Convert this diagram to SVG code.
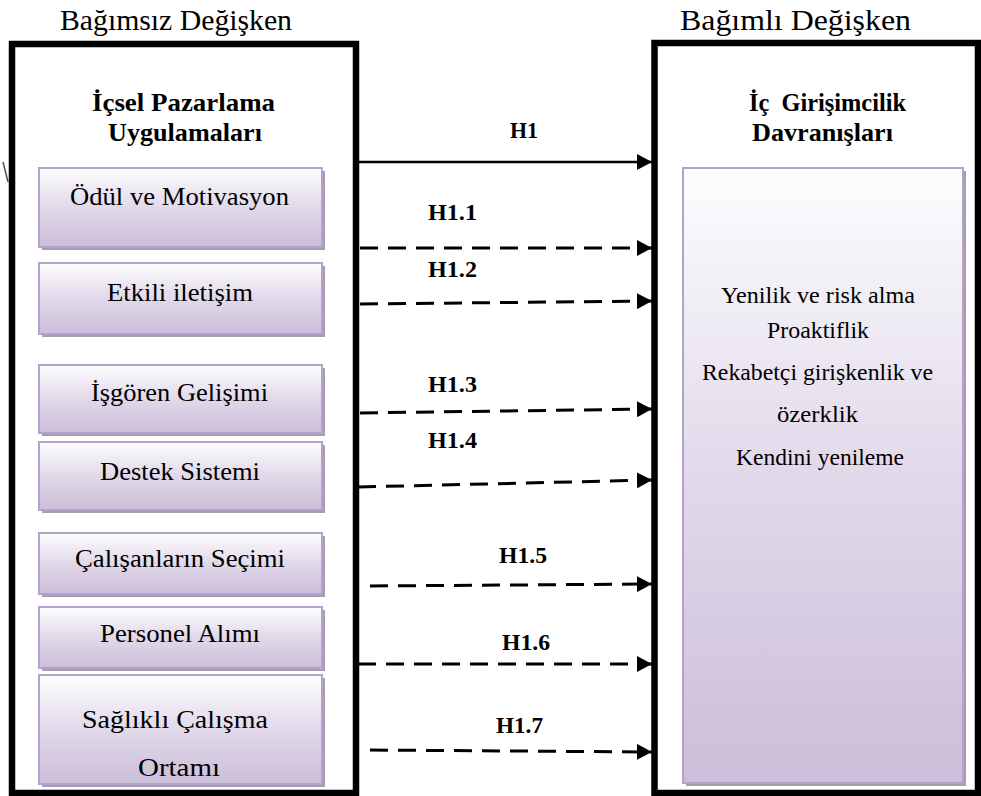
<svg xmlns="http://www.w3.org/2000/svg" width="981" height="796" viewBox="0 0 981 796">
<style>
.frame{fill:none;stroke:#000;stroke-width:6.5}
.box{fill:url(#lav);stroke:#b3a3cc;stroke-width:2}
.sh{fill:#a79daf}
.t{font-family:"Liberation Serif","Times New Roman",serif;font-size:26px;fill:#000}
.r{font-family:"Liberation Serif","Times New Roman",serif;font-size:24px;fill:#000}
.hd{font-family:"Liberation Serif","Times New Roman",serif;font-size:30px;fill:#000}
.b{font-family:"Liberation Serif","Times New Roman",serif;font-size:25px;font-weight:bold;fill:#000}
.h{font-family:"Liberation Serif","Times New Roman",serif;font-size:24px;font-weight:bold;fill:#000}
.solid{stroke:#000;stroke-width:2.5;fill:none}
.dash{stroke:#000;stroke-width:3;fill:none;stroke-dasharray:18 10}
</style>
<defs>
<linearGradient id="lav" x1="0" y1="0" x2="0" y2="1">
<stop offset="0" stop-color="#fdfdfe"/>
<stop offset="0.5" stop-color="#e1d9ea"/>
<stop offset="1" stop-color="#cbbed9"/>
</linearGradient>
<marker id="ah" markerUnits="userSpaceOnUse" markerWidth="15" markerHeight="16" refX="15" refY="8" orient="auto">
<path d="M0,0 L15,8 L0,16 Z" fill="#000"/>
</marker>
</defs>
<rect width="981" height="796" fill="#fff"/>

<text class="hd" x="60" y="30" textLength="232" lengthAdjust="spacingAndGlyphs">Bağımsız Değişken</text>
<text class="hd" x="680" y="30" textLength="231" lengthAdjust="spacingAndGlyphs">Bağımlı Değişken</text>

<line x1="3" y1="162" x2="8" y2="182" stroke="#555" stroke-width="1.5"/>

<g id="independent">
<rect class="frame" x="12" y="44" width="344" height="749"/>
<text class="b" x="92" y="111" textLength="183" lengthAdjust="spacingAndGlyphs">İçsel Pazarlama</text>
<text class="b" x="108" y="141" textLength="154" lengthAdjust="spacingAndGlyphs">Uygulamaları</text>
</g>

<g id="odul">
<rect class="sh" x="42" y="171" width="283" height="79"/>
<rect class="box" x="39" y="168" width="283" height="79"/>
<text class="t" x="70" y="205" textLength="219" lengthAdjust="spacingAndGlyphs">Ödül ve Motivasyon</text>
</g>
<g id="etkili">
<rect class="sh" x="42" y="266" width="283" height="71"/>
<rect class="box" x="39" y="263" width="283" height="71"/>
<text class="t" x="107" y="301" textLength="146" lengthAdjust="spacingAndGlyphs">Etkili iletişim</text>
</g>
<g id="isgoren">
<rect class="sh" x="42" y="368" width="283" height="68"/>
<rect class="box" x="39" y="365" width="283" height="68"/>
<text class="t" x="91" y="401" textLength="177" lengthAdjust="spacingAndGlyphs">İşgören Gelişimi</text>
</g>
<g id="destek">
<rect class="sh" x="42" y="445" width="283" height="68"/>
<rect class="box" x="39" y="442" width="283" height="68"/>
<text class="t" x="100" y="480" textLength="160" lengthAdjust="spacingAndGlyphs">Destek Sistemi</text>
</g>
<g id="calisan">
<rect class="sh" x="42" y="536" width="283" height="61"/>
<rect class="box" x="39" y="533" width="283" height="61"/>
<text class="t" x="75" y="567" textLength="210" lengthAdjust="spacingAndGlyphs">Çalışanların Seçimi</text>
</g>
<g id="personel">
<rect class="sh" x="42" y="610" width="283" height="61"/>
<rect class="box" x="39" y="607" width="283" height="61"/>
<text class="t" x="100" y="642" textLength="160" lengthAdjust="spacingAndGlyphs">Personel Alımı</text>
</g>
<g id="saglikli">
<rect class="sh" x="42" y="678" width="283" height="109"/>
<rect class="box" x="39" y="675" width="283" height="109"/>
<text class="t" x="82" y="728" textLength="186" lengthAdjust="spacingAndGlyphs">Sağlıklı Çalışma</text>
<text class="t" x="138" y="776" textLength="82" lengthAdjust="spacingAndGlyphs">Ortamı</text>
</g>

<g id="dependent">
<rect class="frame" x="654.5" y="43" width="323.5" height="750"/>
<text class="b" x="749" y="111" textLength="157" lengthAdjust="spacingAndGlyphs" xml:space="preserve">İç  Girişimcilik</text>
<text class="b" x="752" y="141" textLength="141" lengthAdjust="spacingAndGlyphs">Davranışları</text>
</g>
<g id="girisimcilik">
<rect class="sh" x="686" y="171" width="280" height="615"/>
<rect class="box" x="683" y="168" width="280" height="615"/>
<text class="r" x="721" y="303" textLength="194" lengthAdjust="spacingAndGlyphs">Yenilik ve risk alma</text>
<text class="r" x="767" y="338" textLength="102" lengthAdjust="spacingAndGlyphs">Proaktiflik</text>
<text class="r" x="702" y="380" textLength="231" lengthAdjust="spacingAndGlyphs">Rekabetçi girişkenlik ve</text>
<text class="r" x="777" y="422" textLength="81" lengthAdjust="spacingAndGlyphs">özerklik</text>
<text class="r" x="736" y="465" textLength="168" lengthAdjust="spacingAndGlyphs">Kendini yenileme</text>
</g>

<g id="connectors">
<line class="solid" x1="358" y1="162" x2="652" y2="162" marker-end="url(#ah)"/>
<line class="dash" x1="360" y1="248" x2="652" y2="248" marker-end="url(#ah)"/>
<line class="dash" x1="360" y1="304" x2="652" y2="301" marker-end="url(#ah)"/>
<line class="dash" x1="360" y1="413" x2="652" y2="409" marker-end="url(#ah)"/>
<line class="dash" x1="358" y1="487" x2="652" y2="480" marker-end="url(#ah)"/>
<line class="dash" x1="370" y1="586" x2="652" y2="584" marker-end="url(#ah)"/>
<line class="dash" x1="358" y1="664" x2="652" y2="664" marker-end="url(#ah)"/>
<line class="dash" x1="370" y1="750" x2="652" y2="752" marker-end="url(#ah)"/>
<text class="h" x="510" y="138" textLength="28" lengthAdjust="spacingAndGlyphs">H1</text>
<text class="h" x="428" y="220" textLength="49" lengthAdjust="spacingAndGlyphs">H1.1</text>
<text class="h" x="428" y="277" textLength="49" lengthAdjust="spacingAndGlyphs">H1.2</text>
<text class="h" x="428" y="392" textLength="49" lengthAdjust="spacingAndGlyphs">H1.3</text>
<text class="h" x="428" y="448" textLength="49" lengthAdjust="spacingAndGlyphs">H1.4</text>
<text class="h" x="499" y="563" textLength="48" lengthAdjust="spacingAndGlyphs">H1.5</text>
<text class="h" x="502" y="650" textLength="48" lengthAdjust="spacingAndGlyphs">H1.6</text>
<text class="h" x="496" y="733" textLength="47" lengthAdjust="spacingAndGlyphs">H1.7</text>
</g>
</svg>
